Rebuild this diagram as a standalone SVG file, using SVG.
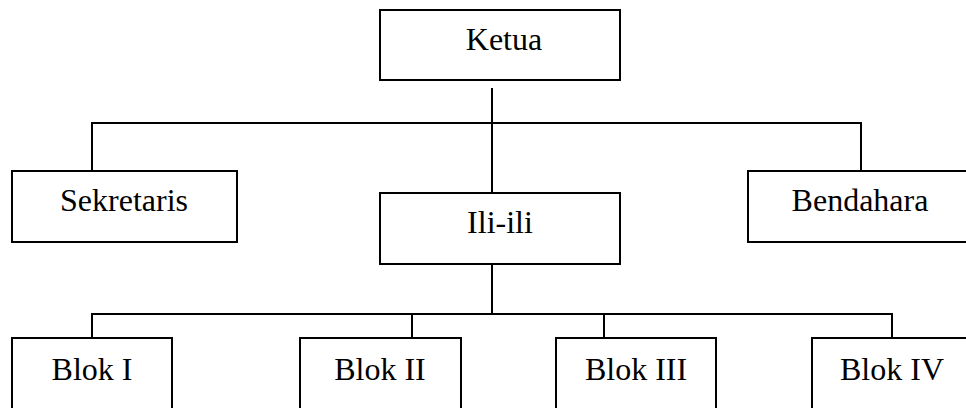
<svg xmlns="http://www.w3.org/2000/svg" width="966" height="408" viewBox="0 0 966 408">
<style>
.box{fill:#fff;stroke:#000;stroke-width:2}
.lbl{font-family:"Liberation Serif","Times New Roman",serif;font-size:32px;fill:#000;text-anchor:middle}
.con line{stroke:#000;stroke-width:2}
</style>
<rect width="966" height="408" fill="#fff"/>
<g id="connectors" class="con">
<line x1="492" y1="88" x2="492" y2="193"/>
<line x1="91" y1="123" x2="862" y2="123"/>
<line x1="92" y1="122" x2="92" y2="171"/>
<line x1="861" y1="122" x2="861" y2="171"/>
<line x1="492" y1="264" x2="492" y2="315"/>
<line x1="91" y1="314" x2="893" y2="314"/>
<line x1="92" y1="313" x2="92" y2="338"/>
<line x1="412" y1="313" x2="412" y2="338"/>
<line x1="604" y1="313" x2="604" y2="338"/>
<line x1="892" y1="313" x2="892" y2="338"/>
</g>
<g id="ketua"><rect class="box" x="380" y="10" width="240" height="70"/><text class="lbl" x="504" y="50">Ketua</text></g>
<g id="sekretaris"><rect class="box" x="12" y="171" width="225" height="71"/><text class="lbl" x="124" y="211">Sekretaris</text></g>
<g id="bendahara"><rect class="box" x="748" y="171" width="240" height="71"/><text class="lbl" x="860" y="211">Bendahara</text></g>
<g id="ili-ili"><rect class="box" x="380" y="193" width="240" height="71"/><text class="lbl" x="500" y="233">Ili-ili</text></g>
<g id="blok1"><rect class="box" x="12" y="338" width="160" height="90"/><text class="lbl" x="92" y="380">Blok I</text></g>
<g id="blok2"><rect class="box" x="300" y="338" width="161" height="90"/><text class="lbl" x="380" y="380">Blok II</text></g>
<g id="blok3"><rect class="box" x="556" y="338" width="160" height="90"/><text class="lbl" x="636" y="380">Blok III</text></g>
<g id="blok4"><rect class="box" x="812" y="338" width="180" height="90"/><text class="lbl" x="892" y="380">Blok IV</text></g>
</svg>
